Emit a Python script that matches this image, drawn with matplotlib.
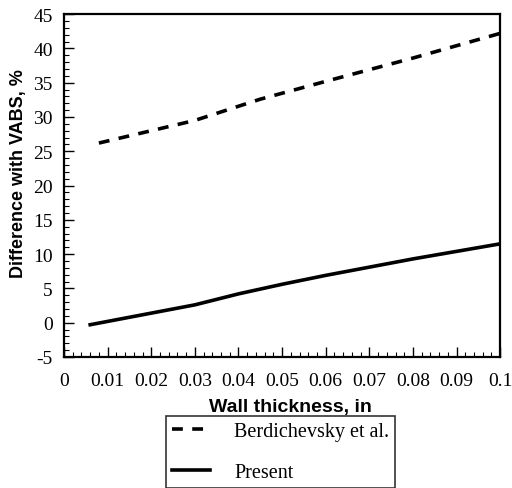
import numpy as np
import matplotlib.pyplot as plt
from matplotlib.ticker import MultipleLocator

# Данные
thick_b = [0.008, 0.03, 0.045, 0.06, 0.08, 0.1]
diff_b = [26.2, 29.5, 32.6, 35.2, 38.6, 42.2]

thick_p = [0.006, 0.03, 0.04, 0.05, 0.06, 0.07, 0.08, 0.09, 0.1]
diff_p = [-0.3, 2.6, 4.2, 5.6, 6.9, 8.1, 9.3, 10.4, 11.5]

labels = ['Berdichevsky et al.', 'Present']
xticks = [0, 0.01, 0.02, 0.03, 0.04, 0.05, 0.06, 0.07, 0.08, 0.09, 0.1]
xticklabels = ['0', '0.01', '0.02', '0.03', '0.04', '0.05', '0.06', '0.07', '0.08', '0.09', '0.1']

serif = 'Liberation Serif'
sans = 'Liberation Sans'

fig = plt.figure(figsize=(5.12, 4.89), dpi=100)
ax = fig.add_axes([0.125, 0.268, 0.852, 0.701])

ax.plot(thick_b, diff_b, color='black', lw=2.6, ls=(0, (3, 2.6)), label=labels[0])
ax.plot(thick_p, diff_p, color='black', lw=2.6, ls='-', label=labels[1])

ax.set_xlim(0, 0.1)
ax.set_ylim(-5, 45)
ax.set_xticks(xticks)
ax.set_xticklabels(xticklabels, fontfamily=serif, fontsize=14)
ax.set_yticks(np.arange(-5, 46, 5))
ax.set_yticklabels([str(v) for v in range(-5, 46, 5)], fontfamily=serif, fontsize=14)
ax.xaxis.set_minor_locator(MultipleLocator(0.002))
ax.yaxis.set_minor_locator(MultipleLocator(1))
ax.tick_params(axis='x', which='major', direction='in', length=7, width=1, pad=11)
ax.tick_params(axis='y', which='major', direction='in', length=7, width=1, pad=8)
ax.tick_params(which='minor', direction='in', length=3.5, width=0.8)
for s in ax.spines.values():
    s.set_linewidth(1.6)

ax.set_xlabel('Wall thickness, in', fontfamily=sans, fontweight='bold', fontsize=14)
ax.set_ylabel('Difference with VABS, %', fontfamily=sans, fontweight='bold', fontsize=13)
ax.xaxis.set_label_coords(0.518, -0.12)
ax.yaxis.set_label_coords(-0.085, 0.538)

leg = fig.legend(loc='upper center', bbox_to_anchor=(0.548, 0.147), frameon=True,
                 fancybox=False, edgecolor='black', handlelength=1.9, handletextpad=1.2,
                 borderpad=0.3, labelspacing=1.08, borderaxespad=0,
                 prop={'family': serif, 'size': 14.5})
leg.get_frame().set_linewidth(1.2)

fig.savefig('out.png', dpi=100)
